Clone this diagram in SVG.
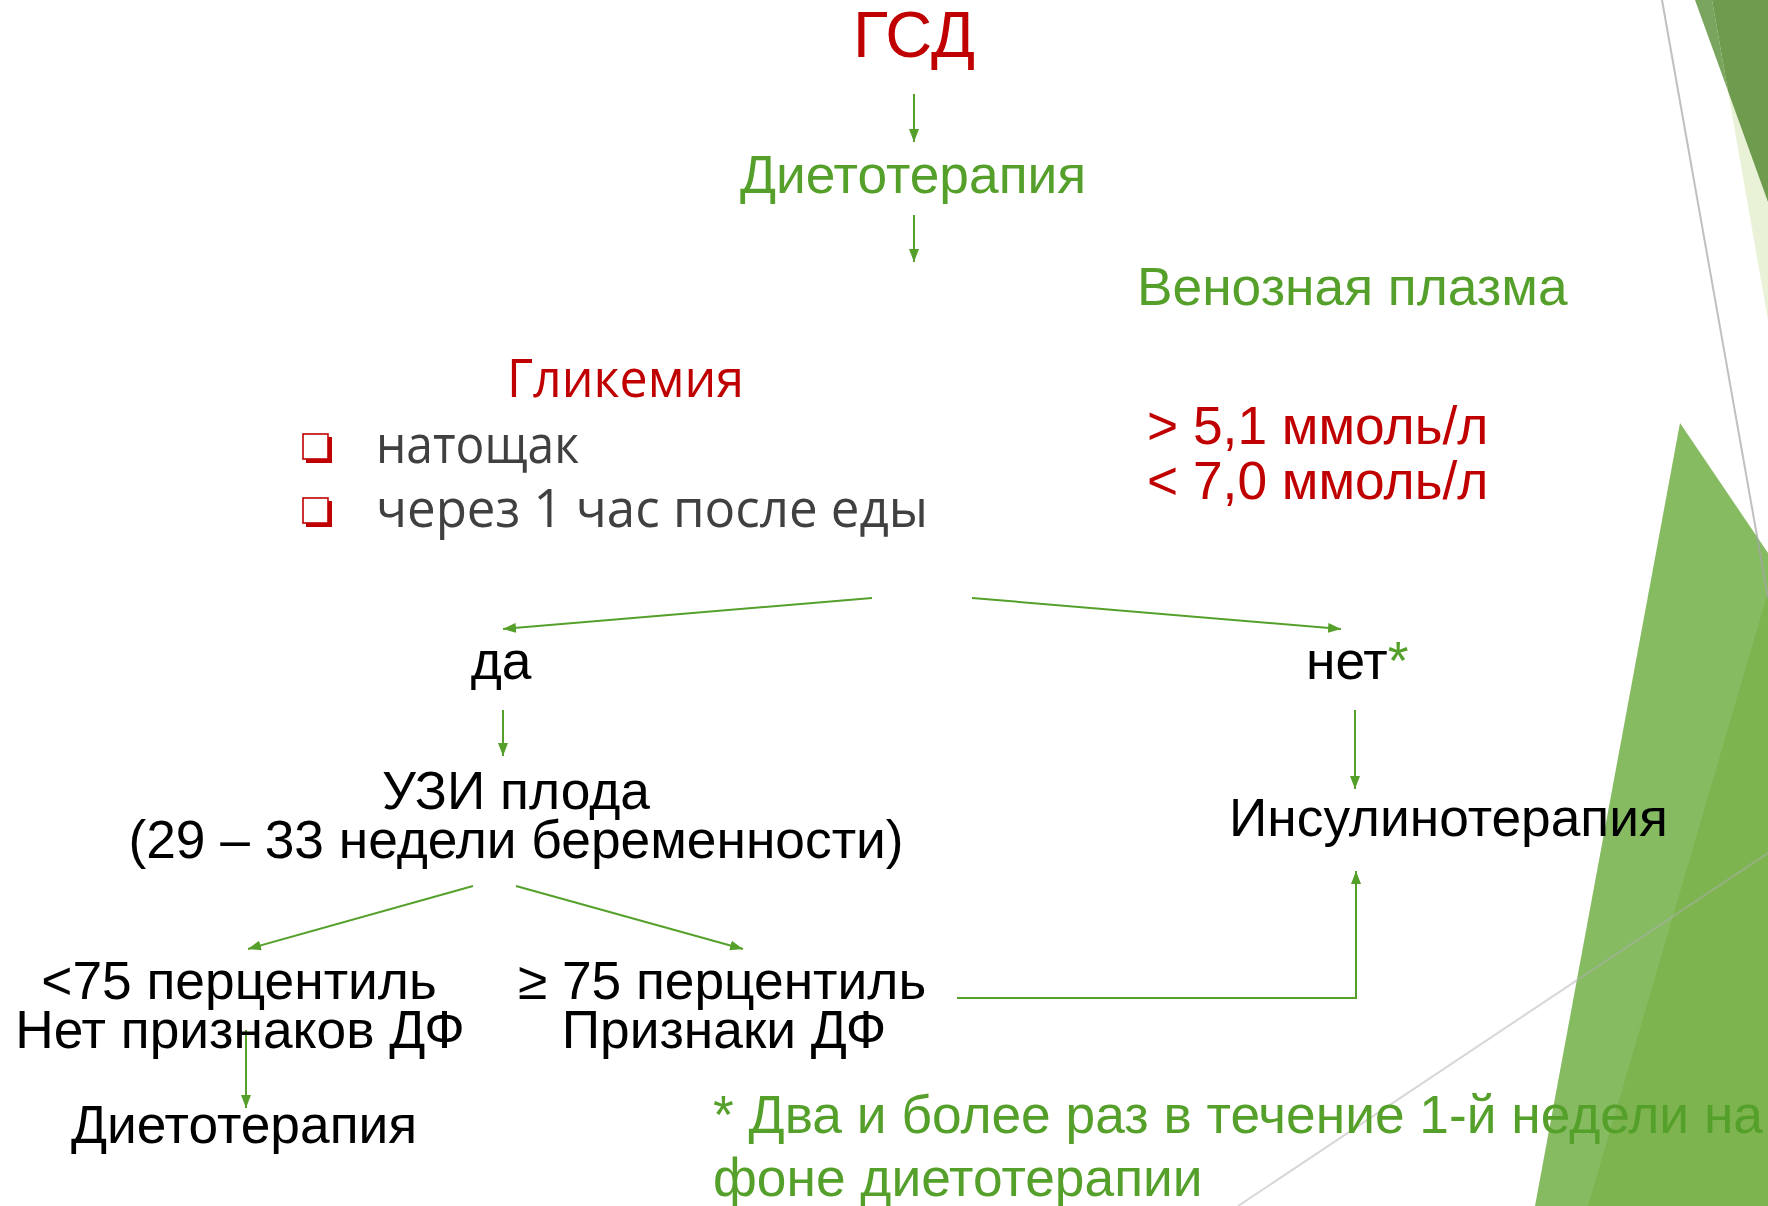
<svg xmlns="http://www.w3.org/2000/svg" width="1768" height="1206" viewBox="0 0 1768 1206">
<defs>
<style>
.a{font-family:"Liberation Sans",Arial,sans-serif;font-size:53.3px}
.t{font-family:"Open Sans","Noto Sans",sans-serif;font-size:53.3px}
.red{fill:#c00000}
.grn{fill:#55a02a}
.blk{fill:#000}
.gry{fill:#404040}
.ln{stroke:#55a02a;stroke-width:2;fill:none}
</style>
<marker id="ah" markerUnits="userSpaceOnUse" markerWidth="14" markerHeight="10" refX="13" refY="5" orient="auto">
<path d="M0,0 L13,5 L0,10 Z" fill="#55a02a"/>
</marker>
<g id="bullet">
<path d="M4,4 H30 V30 H4 Z" fill="#c00000"/>
<rect x="1" y="1" width="25" height="25" fill="#fff" stroke="#c00000" stroke-width="1.6"/>
</g>
</defs>
<rect width="1768" height="1206" fill="#fff"/>
<g id="background">
<polygon points="1712,0 1768,0 1768,320" fill="#e9f2d6"/>
<polygon points="1695,0 1712,0 1728,91" fill="#79a55f"/>
<polygon points="1712,0 1768,0 1768,202 1728,91" fill="#6f9b4f"/>
<polygon points="1680,423 1768,553 1768,1206 1535,1206" fill="#86bb62"/>
<polygon points="1768,592 1768,1206 1588,1206" fill="#7db44f"/>
<line x1="1662" y1="0" x2="1768" y2="598" stroke="#a6a6a6" stroke-width="2" opacity="0.7"/>
<line x1="1238" y1="1206" x2="1768" y2="853" stroke="#b0b0b0" stroke-width="2" opacity="0.5"/>
</g>
<g id="connectors">
<line class="ln" x1="914" y1="94" x2="914" y2="142" marker-end="url(#ah)"/>
<line class="ln" x1="914" y1="215" x2="914" y2="262" marker-end="url(#ah)"/>
<line class="ln" x1="872" y1="598" x2="503" y2="629" marker-end="url(#ah)"/>
<line class="ln" x1="972" y1="598" x2="1341" y2="629" marker-end="url(#ah)"/>
<line class="ln" x1="503" y1="710" x2="503" y2="756" marker-end="url(#ah)"/>
<line class="ln" x1="1355" y1="710" x2="1355" y2="789" marker-end="url(#ah)"/>
<line class="ln" x1="473" y1="886" x2="248" y2="949" marker-end="url(#ah)"/>
<line class="ln" x1="516" y1="886" x2="743" y2="949" marker-end="url(#ah)"/>
<line class="ln" x1="246" y1="1030" x2="246" y2="1108" marker-end="url(#ah)"/>
<polyline class="ln" points="957,998 1356,998 1356,871" marker-end="url(#ah)"/>
</g>
<g id="n-gsd"><text class="a red" x="914" y="57" text-anchor="middle" style="font-size:65px">ГСД</text></g>
<g id="n-diet1"><text class="a grn" x="913" y="193" text-anchor="middle">Диетотерапия</text></g>
<g id="n-venous"><text class="a grn" x="1137" y="305">Венозная плазма</text></g>
<g id="n-glyc">
<text class="t red" x="507" y="397" textLength="237" lengthAdjust="spacingAndGlyphs">Гликемия</text>
<use href="#bullet" x="302" y="433"/>
<use href="#bullet" x="302" y="497"/>
<text class="t gry" x="376" y="463" textLength="203" lengthAdjust="spacingAndGlyphs">натощак</text>
<text class="t gry" x="376" y="527" textLength="552" lengthAdjust="spacingAndGlyphs">через 1 час после еды</text>
</g>
<g id="n-values">
<text class="a red" x="1147" y="444">&gt; 5,1 ммоль/л</text>
<text class="a red" x="1147" y="499">&lt; 7,0 ммоль/л</text>
</g>
<g id="n-da"><text class="a blk" x="501" y="679" text-anchor="middle">да</text></g>
<g id="n-net"><text class="a blk" x="1306" y="679">нет<tspan class="grn">*</tspan></text></g>
<g id="n-uzi">
<text class="a blk" x="516" y="809" text-anchor="middle">УЗИ плода</text>
<text class="a blk" x="516" y="858" text-anchor="middle">(29 – 33 недели беременности)</text>
</g>
<g id="n-insulin"><text class="a blk" x="1229" y="836">Инсулинотерапия</text></g>
<g id="n-lt75">
<text class="a blk" x="239" y="999" text-anchor="middle">&lt;75 перцентиль</text>
<text class="a blk" x="240" y="1048" text-anchor="middle">Нет признаков ДФ</text>
</g>
<g id="n-ge75">
<text class="a blk" x="722" y="999" text-anchor="middle">≥ 75 перцентиль</text>
<text class="a blk" x="724" y="1048" text-anchor="middle">Признаки ДФ</text>
</g>
<g id="n-diet2"><text class="a blk" x="244" y="1143" text-anchor="middle">Диетотерапия</text></g>
<g id="n-note">
<text class="a grn" x="713" y="1133">* Два и более раз в течение 1-й недели на</text>
<text class="a grn" x="713" y="1196">фоне диетотерапии</text>
</g>
</svg>
